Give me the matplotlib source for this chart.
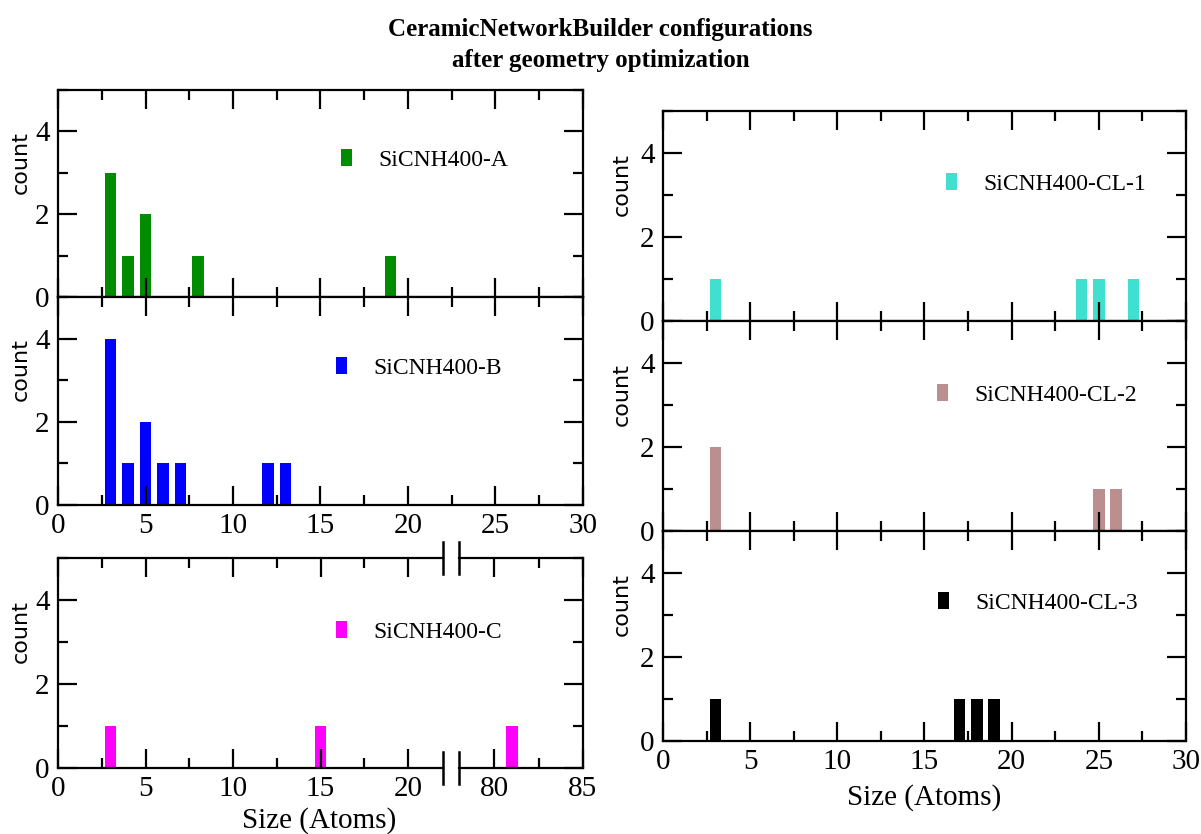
import matplotlib
matplotlib.use("Agg")
from matplotlib import pyplot as plt
from matplotlib.ticker import MultipleLocator

plt.rcParams["font.family"] = ["Liberation Serif", "DejaVu Serif"]

# cluster sizes (atoms) and counts per configuration
size_A = [3, 4, 5, 8, 19]
count_A = [3, 1, 2, 1, 1]

size_B = [3, 4, 5, 6, 7, 12, 13]
count_B = [4, 1, 2, 1, 1, 1, 1]

size_C = [3, 15, 81]
count_C = [1, 1, 1]

size_CL1 = [3, 24, 25, 27]
count_CL1 = [1, 1, 1, 1]

size_CL2 = [3, 25, 26]
count_CL2 = [2, 1, 1]

size_CL3 = [3, 17, 18, 19]
count_CL3 = [1, 1, 1, 1]

bar_w = 0.66


def style(ax, xticklabels=True):
    ax.set_ylim(0, 5)
    ax.xaxis.set_major_locator(MultipleLocator(5))
    ax.xaxis.set_minor_locator(MultipleLocator(2.5))
    ax.yaxis.set_major_locator(MultipleLocator(2))
    ax.yaxis.set_minor_locator(MultipleLocator(1))
    ax.tick_params(which="both", direction="in", top=True, right=True,
                   width=1.6, labelsize=21, pad=6)
    ax.tick_params(which="major", length=14)
    ax.tick_params(which="minor", length=7)
    if not xticklabels:
        ax.tick_params(labelbottom=False)
    for s in ax.spines.values():
        s.set_linewidth(1.6)


def count_label(ax, x):
    ax.set_ylabel("count", family="DejaVu Sans", fontsize=16)
    ax.yaxis.set_label_coords(x, 0.65)


def legend(ax, x, y):
    ax.legend(loc="center left", bbox_to_anchor=(x, y), frameon=False,
              fontsize=17, handlelength=0.47, handleheight=0.72,
              handletextpad=1.1, borderpad=0, borderaxespad=0)


fig = plt.figure(figsize=(12.01, 8.34), dpi=100)

fig.text(0.5, 0.978, "CeramicNetworkBuilder configurations\nafter geometry optimization",
         ha="center", va="top", fontsize=18, fontweight="bold", linespacing=1.45)

# left column
axA = fig.add_axes([0.0483, 0.6439, 0.4371, 0.2482])
axA.bar(size_A, count_A, width=bar_w, color="#008c00", label="SiCNH400-A")
axA.set_xlim(0, 30)
style(axA, xticklabels=False)
count_label(axA, -0.052)
legend(axA, 0.539, 0.662)

axB = fig.add_axes([0.0483, 0.3945, 0.4371, 0.2494])
axB.bar(size_B, count_B, width=bar_w, color="#0000ff", label="SiCNH400-B")
axB.set_xlim(0, 30)
style(axB)
count_label(axB, -0.052)
legend(axB, 0.53, 0.66)

# broken x axis for C
axC1 = fig.add_axes([0.0483, 0.0791, 0.3206, 0.2518])
axC2 = fig.add_axes([0.3822, 0.0791, 0.1032, 0.2518])
axC2.set_facecolor("none")
for ax in (axC1, axC2):
    ax.bar(size_C, count_C, width=bar_w, color="#ff00ff", label="SiCNH400-C")
    style(ax)
axC1.set_xlim(0, 22)
axC2.set_xlim(78, 85)
axC1.spines["right"].set_visible(False)
axC1.tick_params(which="both", right=False)
axC2.spines["left"].set_visible(False)
axC2.tick_params(which="both", left=False, labelleft=False)
count_label(axC1, -0.071)
legend(axC1, 0.722, 0.648)
axC1.set_xlabel("Size (Atoms)", fontsize=21)
axC1.xaxis.set_label_coords(0.678, -0.185)
for ax, xb in ((axC1, 1), (axC2, 0)):
    for yb in (0, 1):
        ax.plot([xb, xb], [yb - 0.075, yb + 0.075], transform=ax.transAxes,
                color="k", lw=1.8, clip_on=False)

# right column
right = [
    (0.6151, size_CL1, count_CL1, "#40e0d0", "SiCNH400-CL-1", (0.541, 0.652)),
    (0.3633, size_CL2, count_CL2, "#bc8f8f", "SiCNH400-CL-2", (0.524, 0.648)),
    (0.1115, size_CL3, count_CL3, "#000000", "SiCNH400-CL-3", (0.526, 0.657)),
]
for i, (b, xs, ys, col, lab, pos) in enumerate(right):
    ax = fig.add_axes([0.5520, b, 0.4355, 0.2518])
    ax.bar(xs, ys, width=bar_w, color=col, label=lab)
    ax.set_xlim(0, 30)
    style(ax, xticklabels=(i == 2))
    count_label(ax, -0.06)
    legend(ax, *pos)
    if i == 2:
        ax.set_xlabel("Size (Atoms)", fontsize=21)
        ax.xaxis.set_label_coords(0.5, -0.205)

fig.savefig("out.png", dpi=100)
